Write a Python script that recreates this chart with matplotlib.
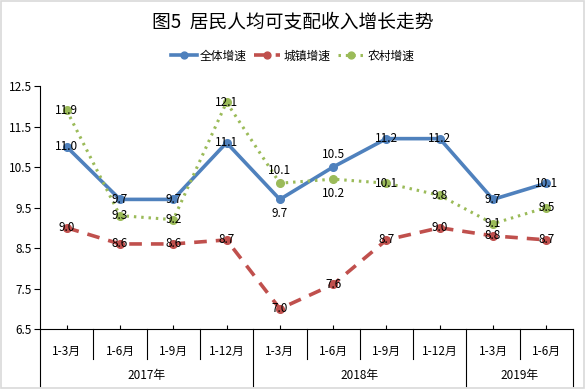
import matplotlib
matplotlib.use("Agg")
import matplotlib.pyplot as plt
from matplotlib.patches import Rectangle
from matplotlib.lines import Line2D

plt.rcParams['font.family'] = ['Noto Sans CJK SC', 'DejaVu Sans']

categories = ["1-3月", "1-6月", "1-9月", "1-12月", "1-3月", "1-6月", "1-9月", "1-12月", "1-3月", "1-6月"]
years = ["2017年", "2018年", "2019年"]
year_counts = [4, 4, 2]
total = [11.0, 9.7, 9.7, 11.1, 9.7, 10.5, 11.2, 11.2, 9.7, 10.1]
urban = [9.0, 8.6, 8.6, 8.7, 7.0, 7.6, 8.7, 9.0, 8.8, 8.7]
rural = [11.9, 9.3, 9.2, 12.1, 10.1, 10.2, 10.1, 9.8, 9.1, 9.5]
yticks = [6.5, 7.5, 8.5, 9.5, 10.5, 11.5, 12.5]

W, H = 585, 389
fig = plt.figure(figsize=(W / 100, H / 100), dpi=100)
fig.patches.append(Rectangle((0.002, 0.002), 0.996, 0.996, transform=fig.transFigure,
                             fill=False, edgecolor='#d9d9d9', linewidth=1.2))

L, R, T, B = 40, 573, 86, 329
ax = fig.add_axes([L / W, 1 - B / H, (R - L) / W, (B - T) / H])
n = len(categories)
x = list(range(n))
ax.set_xlim(-0.5, n - 0.5)
ax.set_ylim(6.5, 12.5)

blue, red, green = '#4F81BD', '#C0504D', '#9BBB59'
ax.plot(x, total, color=blue, lw=2.6, marker='o', ms=5.5, label='全体增速', zorder=3)
ax.plot(x, urban, color=red, lw=2.6, ls=(0, (3.5, 2.5)), marker='o', ms=5.5, label='城镇增速', zorder=3)
ax.plot(x, rural, color=green, lw=2.2, ls=(0, (0.8, 1.6)), marker='o', ms=5.5, label='农村增速', zorder=3)

pos_total = ['c', 'c', 'c', 'c', 'b', 'a', 'c', 'c', 'c', 'c']
pos_rural = ['c', 'c', 'c', 'c', 'a', 'b', 'c', 'c', 'c', 'c']
pos_urban = ['c'] * n
off = {'c': 0, 'a': 9, 'b': -10}
for series, pos in ((total, pos_total), (urban, pos_urban), (rural, pos_rural)):
    for xi, v, p in zip(x, series, pos):
        ax.annotate(f"{v:.1f}", (xi, v), xytext=(0, off[p]), textcoords='offset points',
                    ha='center', va='center', fontsize=8.5, color='black', zorder=5)

for s in ('top', 'right'):
    ax.spines[s].set_visible(False)
for s in ('left', 'bottom'):
    ax.spines[s].set_color('black')
    ax.spines[s].set_linewidth(0.8)
ax.set_yticks(yticks)
ax.set_yticklabels([f"{t:.1f}" for t in yticks], fontsize=8.5)
ax.tick_params(axis='y', direction='out', length=4, width=0.8, pad=2)
ax.set_xticks(x)
ax.set_xticklabels([])
ax.tick_params(axis='x', direction='in', length=3, width=0.8)


def fy(py):
    return 1 - py / H


for xi, c in enumerate(categories):
    xf = (L + (xi + 0.5) * (R - L) / n) / W
    fig.text(xf, fy(351), c, ha='center', va='center', fontsize=8.5)
starts = [0]
for c in year_counts:
    starts.append(starts[-1] + c)
for k in range(n + 1):
    xf = (L + k * (R - L) / n) / W
    long_ = k in starts
    fig.add_artist(Line2D([xf, xf], [fy(B), fy(386 if long_ else 359)], color='black', lw=0.8,
                          transform=fig.transFigure))
for yname, a, b in zip(years, starts[:-1], starts[1:]):
    xf = (L + (a + b) / 2 * (R - L) / n) / W
    fig.text(xf, fy(375), yname, ha='center', va='center', fontsize=8.5)

fig.text(0.5, fy(22), "图5  居民人均可支配收入增长走势", ha='center', va='center', fontsize=13.5)
fig.legend(loc='center', bbox_to_anchor=(0.5, fy(56)), ncol=3, frameon=False, fontsize=8.5,
           handlelength=2.2, columnspacing=0.6, handletextpad=0.3, markerscale=0.9)

fig.savefig('out.png', dpi=100)
